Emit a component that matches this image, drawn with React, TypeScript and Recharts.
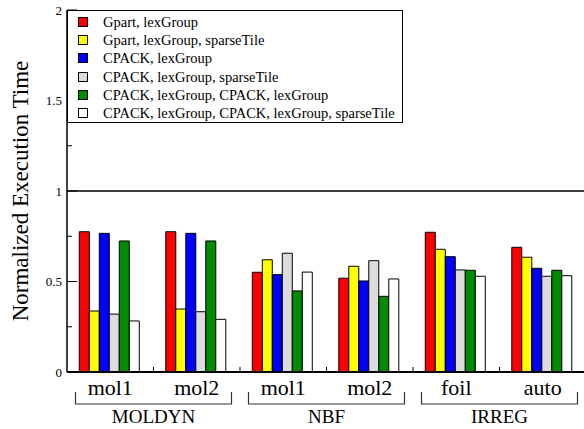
import React from 'react';
import { BarChart, Bar, XAxis, YAxis, ReferenceLine, Legend } from 'recharts';

const FONT = '"Liberation Serif", "Times New Roman", serif';

const categories = ['mol1', 'mol2', 'mol1', 'mol2', 'foil', 'auto'];
const groupNames = ['MOLDYN', 'NBF', 'IRREG'];

const gpartLex = [0.775, 0.775, 0.551, 0.518, 0.772, 0.689];
const gpartLexSparse = [0.337, 0.348, 0.62, 0.584, 0.678, 0.634];
const cpackLex = [0.766, 0.766, 0.538, 0.503, 0.637, 0.573];
const cpackLexSparse = [0.32, 0.333, 0.656, 0.615, 0.564, 0.529];
const cpackLexCpackLex = [0.724, 0.724, 0.448, 0.418, 0.562, 0.562];
const cpackLexCpackLexSparse = [0.282, 0.291, 0.552, 0.514, 0.529, 0.532];

const seriesNames = [
  'Gpart, lexGroup',
  'Gpart, lexGroup, sparseTile',
  'CPACK, lexGroup',
  'CPACK, lexGroup, sparseTile',
  'CPACK, lexGroup, CPACK, lexGroup',
  'CPACK, lexGroup, CPACK, lexGroup, sparseTile',
];
const seriesColors = ['#ff0000', '#ffff00', '#0000ff', '#dcdcdc', '#008b00', '#ffffff'];
const seriesValues = [gpartLex, gpartLexSparse, cpackLex, cpackLexSparse, cpackLexCpackLex, cpackLexCpackLexSparse];
const seriesKeys = ['s0', 's1', 's2', 's3', 's4', 's5'];

const yTicks = [0, 0.25, 0.5, 0.75, 1, 1.25, 1.5, 1.75, 2];
const yTickLabels = ['0', '', '0.5', '', '1', '', '1.5', '', '2'];
const topTicks = [0, 0.25, 0.5, 0.75, 1, 1.25, 1.5, 1.75, 2, 2.25, 2.5, 2.75, 3, 3.25, 3.5, 3.75, 4, 4.25, 4.5, 4.75, 5, 5.25, 5.5, 5.75, 6];

const data = categories.map((name, i) => {
  const row: any = { name };
  seriesKeys.forEach((k, s) => {
    row[k] = seriesValues[s][i];
  });
  return row;
});

const LeftTick = (props: any) => {
  const { x, y, payload } = props;
  const idx = yTicks.indexOf(payload.value);
  const label = idx >= 0 ? yTickLabels[idx] : '';
  const major = label !== '';
  return (
    <g>
      <line x1={x} x2={x + (major ? 10 : 5)} y1={y} y2={y} stroke="#000" strokeWidth={1} />
      {major && (
        <text x={x - 5} y={y} textAnchor="end" dominantBaseline="central" fontSize={13} style={{ fontFamily: FONT }} fill="#000">
          {label}
        </text>
      )}
    </g>
  );
};

const RightTick = (props: any) => {
  const { x, y, payload } = props;
  const idx = yTicks.indexOf(payload.value);
  const major = idx >= 0 && yTickLabels[idx] !== '';
  return <line x1={x} x2={x - (major ? 10 : 5)} y1={y} y2={y} stroke="#000" strokeWidth={1} />;
};

const TopTick = (props: any) => {
  const { x, y, payload } = props;
  const v = payload.value;
  const major = Math.abs(v - Math.floor(v) - 0.5) < 1e-6;
  return <line x1={x} x2={x} y1={y} y2={y + (major ? 9 : 4)} stroke="#000" strokeWidth={1} />;
};

const CatTick = (props: any) => {
  const { x, y, payload, index, width, visibleTicksCount } = props;
  const count = visibleTicksCount || categories.length;
  const band = (width || 519) / count;
  const inset = 8.5;
  return (
    <g>
      <text x={x} y={y + 23} textAnchor="middle" fontSize={22} style={{ fontFamily: FONT }} fill="#000">
        {payload.value}
      </text>
      {index < count - 1 && (
        <line x1={x + band / 2} x2={x + band / 2} y1={y} y2={y - 5} stroke="#000" strokeWidth={1} />
      )}
      {index % 2 === 0 && (
        <g>
          <path
            d={`M${x - band / 2 + inset},${y + 20} V${y + 32} H${x + band * 1.5 - inset} V${y + 20}`}
            fill="none"
            stroke="#333"
            strokeWidth={1.2}
          />
          <text x={x + band / 2} y={y + 51} textAnchor="middle" fontSize={19} style={{ fontFamily: FONT }} fill="#000">
            {groupNames[index / 2]}
          </text>
        </g>
      )}
    </g>
  );
};

const YLabel = (props: any) => {
  const { viewBox } = props;
  const cx = 20;
  const cy = viewBox.y + viewBox.height / 2;
  return (
    <text
      x={cx}
      y={cy}
      transform={`rotate(-90, ${cx}, ${cy})`}
      textAnchor="middle"
      dominantBaseline="central"
      fontSize={23}
      style={{ fontFamily: FONT }}
      fill="#000"
    >
      Normalized Execution Time
    </text>
  );
};

const LegendBox = () => (
  <div
    style={{
      width: 336,
      height: 113,
      boxSizing: 'border-box',
      border: '1.3px solid #000',
      background: '#fff',
      paddingTop: 2,
      fontFamily: FONT,
      fontSize: 14.5,
      color: '#000',
    }}
  >
    {seriesNames.map((n, i) => (
      <div key={n} style={{ height: 18.2, display: 'flex', alignItems: 'center', whiteSpace: 'nowrap' }}>
        <div
          style={{
            width: 10,
            height: 10,
            boxSizing: 'border-box',
            marginLeft: 10,
            marginRight: 15,
            background: seriesColors[i],
            border: '1px solid #000',
          }}
        />
        <span style={{ lineHeight: '18px' }}>{n}</span>
      </div>
    ))}
  </div>
);

export default function App() {
  return (
    <div style={{ position: 'absolute', left: 0, top: 0, width: 584, height: 429, overflow: 'hidden', background: '#fff', fontFamily: FONT }}>
      <BarChart
        width={600}
        height={429}
        data={data}
        margin={{ top: 10, right: 0, bottom: 0, left: 0 }}
        barCategoryGap="14.2%"
        barGap={0}
        style={{ fontFamily: FONT }}
      >
        <XAxis
          xAxisId="cat"
          dataKey="name"
          type="category"
          height={57}
          interval={0}
          tickSize={0}
          tickMargin={0}
          tickLine={false}
          axisLine={{ stroke: '#000', strokeWidth: 2 }}
          tick={CatTick}
        />
        <XAxis
          xAxisId="top"
          orientation="top"
          type="number"
          domain={[0, 6]}
          allowDataOverflow
          ticks={topTicks}
          interval={0}
          height={0}
          tickSize={0}
          tickMargin={0}
          tickLine={false}
          axisLine={{ stroke: '#000', strokeWidth: 2 }}
          tick={TopTick}
        />
        <YAxis
          yAxisId="left"
          orientation="left"
          width={67}
          domain={[0, 2]}
          ticks={yTicks}
          interval={0}
          tickSize={0}
          tickMargin={0}
          tickLine={false}
          axisLine={{ stroke: '#000', strokeWidth: 1.5 }}
          tick={LeftTick}
          label={<YLabel />}
        />
        <YAxis
          yAxisId="right"
          orientation="right"
          width={14}
          domain={[0, 2]}
          ticks={yTicks}
          interval={0}
          tickSize={0}
          tickMargin={0}
          tickLine={false}
          axisLine={{ stroke: '#000', strokeWidth: 1.5 }}
          tick={RightTick}
        />
        <ReferenceLine xAxisId="cat" yAxisId="left" y={1} stroke="#000" strokeWidth={1.5} />
        {seriesKeys.map((k, i) => (
          <Bar
            key={k}
            xAxisId="cat"
            yAxisId="left"
            dataKey={k}
            name={seriesNames[i]}
            fill={seriesColors[i]}
            stroke="#000"
            strokeWidth={1}
            isAnimationActive={false}
          />
        ))}
        <Legend
          layout="vertical"
          align="center"
          verticalAlign="middle"
          content={<LegendBox />}
          wrapperStyle={{ top: 10, left: 67, width: 336, height: 113 }}
        />
      </BarChart>
    </div>
  );
}
